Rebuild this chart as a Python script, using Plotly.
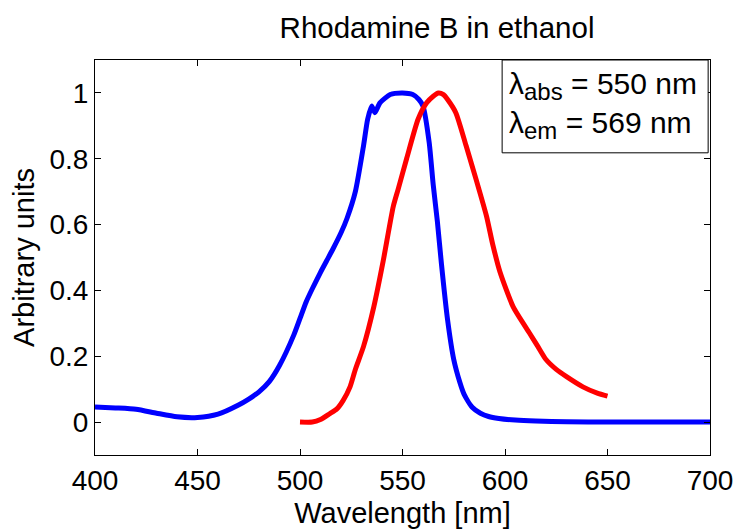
import plotly.graph_objects as go

# Absorption spectrum (blue)
abs_wl = [400, 410, 420, 430, 440, 450, 460, 470, 475, 480, 485, 490, 497, 500, 503, 506,
          510, 513, 516, 520, 523, 527, 531, 533, 535, 536.5, 539, 544, 550, 555, 558,
          560, 563, 565, 567, 569, 572, 575, 578, 580, 584, 588, 592, 597, 605, 615,
          630, 650, 700]
abs_val = [0.046, 0.043, 0.039, 0.027, 0.016, 0.014, 0.024, 0.052, 0.07, 0.092, 0.123, 0.172,
           0.265, 0.315, 0.365, 0.405, 0.455, 0.49, 0.525, 0.575, 0.62, 0.70, 0.84, 0.92,
           0.96, 0.94, 0.97, 0.995, 1.0, 0.995, 0.98, 0.96, 0.85, 0.72, 0.61, 0.48,
           0.31, 0.19, 0.12, 0.085, 0.045, 0.027, 0.017, 0.011, 0.006, 0.003, 0.001,
           0.0, 0.0]

# Emission spectrum (red)
em_wl = [500, 506, 510, 514.6, 518, 521, 524.4, 527, 531, 536, 540.6, 545.5, 548, 552,
         557.6, 561.8, 565, 567.5, 570, 572, 576, 581, 586, 591, 594, 597.6, 604, 612,
         616, 620, 625, 630, 638, 645, 650]
em_val = [0.0, 0.0, 0.008, 0.026, 0.04, 0.065, 0.107, 0.16, 0.23, 0.35, 0.49, 0.655,
          0.71, 0.80, 0.92, 0.97, 0.99, 1.0, 0.995, 0.98, 0.94, 0.84, 0.735, 0.625,
          0.54, 0.455, 0.35, 0.27, 0.23, 0.19, 0.16, 0.138, 0.107, 0.088, 0.079]

x_ticks = [400, 450, 500, 550, 600, 650, 700]
y_ticks = [0, 0.2, 0.4, 0.6, 0.8, 1]
y_tick_text = ["0", "0.2", "0.4", "0.6", "0.8", "1"]

FONT = "Liberation Sans, Arial, Helvetica, sans-serif"

fig = go.Figure()
fig.add_trace(go.Scatter(x=abs_wl, y=abs_val, mode="lines",
                         line=dict(color="#0000ff", width=5, shape="spline", smoothing=0.6),
                         showlegend=False))
fig.add_trace(go.Scatter(x=em_wl, y=em_val, mode="lines",
                         line=dict(color="#ff0000", width=5, shape="spline", smoothing=0.6),
                         showlegend=False))

axis_common = dict(showline=True, linecolor="black", linewidth=1, mirror="ticks",
                   ticks="inside", ticklen=6, tickcolor="black", showgrid=False,
                   zeroline=False, automargin=False,
                   tickfont=dict(family=FONT, size=28, color="black"))

fig.update_xaxes(range=[400, 700], tickvals=x_ticks,
                 title=dict(text="Wavelength [nm]", font=dict(family=FONT, size=29, color="black"),
                            standoff=12),
                 **axis_common)
fig.update_yaxes(range=[-0.1, 1.1], tickvals=y_ticks, ticktext=y_tick_text,
                 title=dict(text="Arbitrary units", font=dict(family=FONT, size=29, color="black"),
                            standoff=6),
                 **axis_common)

# legend-like text box
fig.add_shape(type="rect", xref="paper", yref="paper",
              x0=0.662, x1=0.997, y0=0.765, y1=1.0,
              line=dict(color="black", width=1), fillcolor="white", layer="above")
SUB = "<sub><span style='font-size:24px'>%s</span></sub>"
fig.add_annotation(xref="paper", yref="paper", x=0.670, y=0.935, xanchor="left", yanchor="middle",
                   text="λ" + SUB % "abs" + " = 550 nm", showarrow=False,
                   font=dict(family=FONT, size=30, color="black"))
fig.add_annotation(xref="paper", yref="paper", x=0.670, y=0.835, xanchor="left", yanchor="middle",
                   text="λ" + SUB % "em" + " = 569 nm", showarrow=False,
                   font=dict(family=FONT, size=30, color="black"))

fig.update_layout(
    width=737, height=529,
    margin=dict(l=95, r=27, t=60, b=74),
    paper_bgcolor="white", plot_bgcolor="white",
    title=dict(text="Rhodamine B in ethanol", x=0.593, xref="container", xanchor="center",
               y=0.948, yref="container", yanchor="middle",
               font=dict(family=FONT, size=29.5, color="black")),
)

fig.write_html("out.html")
